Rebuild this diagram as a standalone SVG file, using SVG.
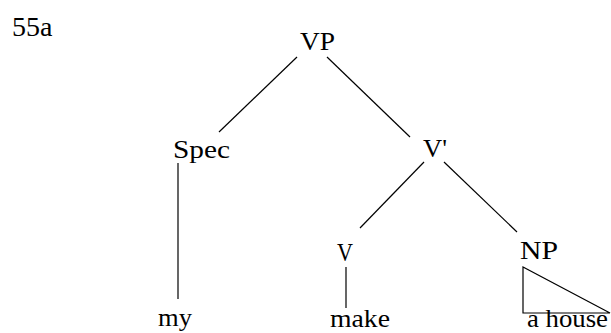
<svg xmlns="http://www.w3.org/2000/svg" width="611" height="333" viewBox="0 0 611 333">
  <style>
    .lbl { font-family: "Liberation Serif", "Times New Roman", serif; font-size: 25px; fill: #000; }
    .num { font-family: "Liberation Serif", "Times New Roman", serif; font-size: 28px; fill: #000; }
    .edge { stroke: #000; stroke-width: 1.2; fill: none; }
  </style>
  <rect width="611" height="333" fill="#fff"/>
  <text class="num" x="12" y="36">55a</text>

  <g id="edges">
    <line class="edge" x1="297" y1="57" x2="219" y2="132"/>
    <line class="edge" x1="327" y1="57" x2="410" y2="137"/>
    <line class="edge" x1="424" y1="162" x2="360" y2="228"/>
    <line class="edge" x1="444" y1="162" x2="517" y2="232"/>
    <line class="edge" x1="178" y1="163" x2="178" y2="299"/>
    <line class="edge" x1="346" y1="267" x2="346" y2="308"/>
  </g>

  <g id="node-vp"><text class="lbl" x="300" y="50" textLength="35" lengthAdjust="spacingAndGlyphs">VP</text></g>
  <g id="node-spec"><text class="lbl" x="173" y="158" textLength="57" lengthAdjust="spacingAndGlyphs">Spec</text></g>
  <g id="node-vbar"><text class="lbl" x="423" y="157" textLength="24" lengthAdjust="spacingAndGlyphs">V'</text></g>
  <g id="node-v"><text class="lbl" x="337" y="261" textLength="16" lengthAdjust="spacingAndGlyphs">V</text></g>
  <g id="node-np">
    <text class="lbl" x="520" y="259" textLength="38" lengthAdjust="spacingAndGlyphs">NP</text>
    <polygon class="edge" points="523,267 523,313 610,313"/>
  </g>
  <g id="node-my"><text class="lbl" x="158" y="326" textLength="34" lengthAdjust="spacingAndGlyphs">my</text></g>
  <g id="node-make"><text class="lbl" x="330" y="327" textLength="60" lengthAdjust="spacingAndGlyphs">make</text></g>
  <g id="node-house"><text class="lbl" x="527" y="327" textLength="81" lengthAdjust="spacingAndGlyphs">a house</text></g>
</svg>
